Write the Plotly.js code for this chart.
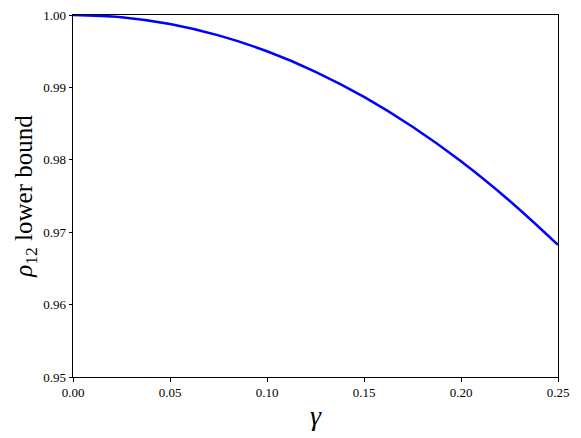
<!DOCTYPE html>
<html>
<head>
<meta charset="utf-8">
<script src="https://cdn.plot.ly/plotly-3.0.1.min.js"></script>
<style>
body{margin:0;padding:0;background:#fff}
#chart{width:581px;height:438px}
</style>
</head>
<body>
<div id="chart"></div>
<script>

/* values */
const gamma = [0, 0.025, 0.05, 0.075, 0.1, 0.125, 0.15, 0.175, 0.2, 0.225, 0.25]
const rhoBound = [1.0, 0.9997, 0.99875, 0.99718, 0.99499, 0.99216, 0.98869, 0.98457, 0.9798, 0.97435, 0.96825]

const xTicks = [0, 0.05, 0.10, 0.15, 0.20, 0.25]
const yTicks = [0.95, 0.96, 0.97, 0.98, 0.99, 1.00]

const serif = "Liberation Serif, DejaVu Serif, serif"

Plotly.newPlot("chart",[{

x:gamma,
y:rhoBound,
mode:"lines",
line:{color:"#0000ff",width:2.5,shape:"spline"},
hoverinfo:"skip"

}],

{
width:581,
height:438,
margin:{l:73,r:23,t:15,b:61},
paper_bgcolor:"#fff",
plot_bgcolor:"#fff",
showlegend:false,
font:{family:serif,color:"#000"},
xaxis:{
range:[0,0.25],
tickvals:xTicks,
ticktext:xTicks.map(v=>v.toFixed(2)),
ticks:"outside",ticklen:3.5,tickwidth:1,tickcolor:"#000",
showline:true,linecolor:"#000",linewidth:1,mirror:true,
showgrid:false,zeroline:false,
tickfont:{family:serif,size:13,color:"#000"},
title:{text:"<i>γ</i>",font:{family:serif,size:28,color:"#000"},standoff:6}
},
yaxis:{
range:[0.95,1.0],
tickvals:yTicks,
ticktext:yTicks.map(v=>v.toFixed(2)),
ticks:"outside",ticklen:3.5,tickwidth:1,tickcolor:"#000",
showline:true,linecolor:"#000",linewidth:1,mirror:true,
showgrid:false,zeroline:false,
tickfont:{family:serif,size:13,color:"#000"},
title:{text:"<i>ρ</i><sub>12</sub> lower bound",font:{family:serif,size:25,color:"#000"},standoff:3}
}
},

{displayModeBar:false,staticPlot:true}

)

</script>
</body>
</html>
